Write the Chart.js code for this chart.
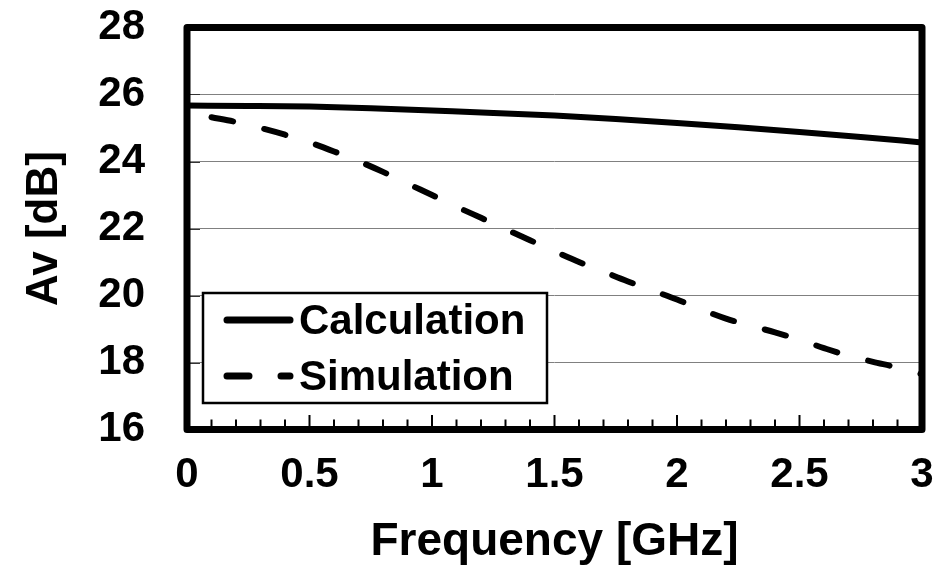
<!DOCTYPE html>
<html>
<head>
<meta charset="utf-8">
<script src="https://cdn.jsdelivr.net/npm/chart.js@4"></script>
<style>
  html, body { margin: 0; padding: 0; background: #fff; }
  #wrap { width: 948px; height: 567px; }
</style>
</head>
<body>
<div id="wrap"><canvas id="gain-chart" width="948" height="567"></canvas></div>
<script>
// Voltage gain vs frequency
const calcFreq = [0, 0.25, 0.5, 0.75, 1.0, 1.25, 1.5, 1.75, 2.0, 2.25, 2.5, 2.75, 3.0];
const calcGain = [25.67, 25.66, 25.64, 25.59, 25.52, 25.45, 25.37, 25.27, 25.15, 25.02, 24.88, 24.73, 24.57];

const simFreq = [0.1, 0.2, 0.3, 0.4, 0.5, 0.6, 0.7, 0.8, 0.9, 1.0,
                 1.1, 1.2, 1.3, 1.4, 1.5, 1.6, 1.7, 1.8, 1.9, 2.0,
                 2.1, 2.2, 2.3, 2.4, 2.5, 2.6, 2.7, 2.8, 2.9, 3.0];
const simGain = [25.32, 25.18, 25.0, 24.8, 24.57, 24.3, 24.01, 23.69, 23.34, 23.0,
                 22.65, 22.32, 21.98, 21.65, 21.32, 21.0, 20.71, 20.42, 20.15, 19.88,
                 19.58, 19.31, 19.1, 18.9, 18.68, 18.43, 18.2, 18.02, 17.85, 17.65];

const seriesNames = ['Calculation', 'Simulation'];
const FONT = "'Liberation Sans', Arial, sans-serif";
const DASH = [22, 32];

Chart.defaults.font.family = FONT;
Chart.defaults.color = '#000';

function toPoints(xs, ys) {
    return xs.map((x, i) => ({ x: x, y: ys[i] }));
}

// keep the plot area fixed: no extra room for overhanging labels
function noOverhang(scale) {
    scale.paddingTop = 0;
    scale.paddingBottom = 0;
    scale.paddingLeft = 0;
    scale.paddingRight = 0;
}

// Frame, inward ticks and the boxed legend inside the plot
const framePlugin = {
    id: 'frame',
    afterDraw(chart) {
        const { ctx, chartArea: a, scales } = chart;
        const xs = scales.x, ys = scales.y;
        ctx.save();

        // short dark ticks on the left edge
        ctx.strokeStyle = '#333';
        ctx.lineWidth = 1;
        for (let v = 18; v <= 26; v += 2) {
            const y = Math.round(ys.getPixelForValue(v)) + 0.5;
            ctx.beginPath();
            ctx.moveTo(a.left, y);
            ctx.lineTo(a.left + 13, y);
            ctx.stroke();
        }

        // inward minor/major ticks along the bottom
        ctx.strokeStyle = '#000';
        ctx.lineWidth = 2;
        for (let i = 1; i < 30; i++) {
            const x = xs.getPixelForValue(i / 10);
            const len = (i % 5 === 0) ? 14.5 : 10;
            ctx.beginPath();
            ctx.moveTo(x, a.bottom);
            ctx.lineTo(x, a.bottom - len);
            ctx.stroke();
        }

        // legend box
        const lx = 203, ly = 293, lw = 344, lh = 110;
        ctx.fillStyle = '#fff';
        ctx.fillRect(lx, ly, lw, lh);
        ctx.lineWidth = 2.5;
        ctx.strokeStyle = '#000';
        ctx.strokeRect(lx, ly, lw, lh);

        const rows = [320, 376];
        chart.data.datasets.forEach((ds, i) => {
            const y = rows[i];
            ctx.beginPath();
            ctx.lineWidth = 7;
            ctx.lineCap = 'round';
            ctx.setLineDash(ds.borderDash || []);
            ctx.moveTo(227, y);
            ctx.lineTo(290, y);
            ctx.stroke();
            ctx.setLineDash([]);
            ctx.fillStyle = '#000';
            ctx.font = 'bold 42px ' + FONT;
            ctx.textAlign = 'left';
            ctx.textBaseline = 'alphabetic';
            ctx.fillText(ds.label, 299, y + 14);
        });

        // heavy plot frame
        ctx.lineWidth = 7;
        ctx.lineJoin = 'round';
        ctx.strokeRect(a.left, a.top, a.right - a.left, a.bottom - a.top);
        ctx.restore();
    }
};

function init() {
    const ctx = document.getElementById('gain-chart').getContext('2d');
    new Chart(ctx, {
        type: 'line',
        data: {
            datasets: [{
                label: seriesNames[0],
                data: toPoints(calcFreq, calcGain),
                borderColor: '#000',
                borderWidth: 6,
                pointRadius: 0,
                cubicInterpolationMode: 'monotone',
                fill: false
            }, {
                label: seriesNames[1],
                data: toPoints(simFreq, simGain),
                borderColor: '#000',
                borderWidth: 6,
                borderDash: DASH,
                borderCapStyle: 'round',
                pointRadius: 0,
                cubicInterpolationMode: 'monotone',
                fill: false
            }]
        },
        options: {
            responsive: false,
            devicePixelRatio: 1,
            animation: false,
            layout: { padding: { top: 27.5, right: 26, left: 0, bottom: 0 } },
            plugins: {
                legend: { display: false },
                tooltip: { enabled: false }
            },
            scales: {
                x: {
                    type: 'linear',
                    min: 0,
                    max: 3,
                    ticks: {
                        stepSize: 0.5,
                        maxRotation: 0,
                        autoSkip: false,
                        padding: 25,
                        font: { size: 42, weight: 'bold', lineHeight: 1 },
                        callback: v => String(Number(v))
                    },
                    grid: { display: false, drawTicks: false },
                    border: { display: false },
                    title: {
                        display: true,
                        text: 'Frequency [GHz]',
                        font: { size: 46, weight: 'bold', lineHeight: 1 },
                        padding: { top: 0, bottom: 2 }
                    },
                    afterFit(scale) { scale.height = 137.5; noOverhang(scale); }
                },
                y: {
                    min: 16,
                    max: 28,
                    ticks: {
                        stepSize: 2,
                        padding: 42,
                        font: { size: 42, weight: 'bold', lineHeight: 1 }
                    },
                    grid: { color: '#808080', lineWidth: 1, drawTicks: false },
                    border: { display: false },
                    title: {
                        display: true,
                        text: 'Av [dB]',
                        font: { size: 44, weight: 'bold', lineHeight: 1 },
                        padding: { top: 23, bottom: 0 }
                    },
                    afterFit(scale) { scale.width = 187; noOverhang(scale); }
                }
            }
        },
        plugins: [framePlugin]
    });
}

document.addEventListener('DOMContentLoaded', init);
</script>
</body>
</html>
